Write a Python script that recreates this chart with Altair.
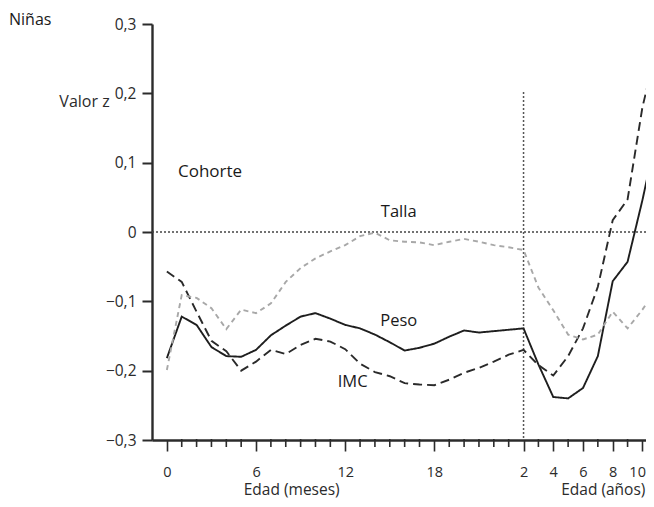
import altair as alt
import pandas as pd

# x position unit: months 0..24, then one unit per year after 2 years (24 = 2 y, 26 = 4 y, ... 32 = 10 y)
x_units = list(range(0, 34))
peso = [-0.182, -0.122, -0.134, -0.166, -0.179, -0.180, -0.170, -0.149, -0.135, -0.122,
        -0.117, -0.125, -0.134, -0.139, -0.148, -0.159, -0.171, -0.167, -0.161, -0.151,
        -0.142, -0.145, -0.143, -0.141, -0.139, -0.191, -0.238, -0.240, -0.225, -0.179,
        -0.071, -0.043, 0.046, 0.145]
imc = [-0.057, -0.072, -0.115, -0.157, -0.172, -0.200, -0.187, -0.170, -0.176, -0.163,
       -0.154, -0.158, -0.169, -0.190, -0.202, -0.208, -0.218, -0.220, -0.221, -0.213,
       -0.203, -0.196, -0.187, -0.177, -0.170, -0.192, -0.207, -0.179, -0.139, -0.079,
       0.017, 0.047, 0.180, 0.270]
talla = [-0.199, -0.091, -0.095, -0.110, -0.140, -0.112, -0.117, -0.103, -0.072, -0.052,
         -0.038, -0.028, -0.019, -0.006, -0.001, -0.012, -0.014, -0.015, -0.019, -0.014,
         -0.010, -0.014, -0.019, -0.022, -0.026, -0.080, -0.113, -0.148, -0.155, -0.148,
         -0.115, -0.139, -0.112, -0.080]
series_names = ["Peso", "IMC", "Talla"]
major_ticks = [0, 6, 12, 18, 24, 26, 28, 30, 32]
major_labels = ["0", "6", "12", "18", "2", "4", "6", "8", "10"]
minor_ticks = [v for v in range(0, 33) if v not in major_ticks]
y_tick_values = [-0.3, -0.2, -0.1, 0.0, 0.1, 0.2, 0.3]

ann_text = ["Cohorte", "Talla", "Peso", "IMC"]
ann_x = [0.75, 15.6, 15.6, 12.5]
ann_y = [0.087, 0.029, -0.128, -0.217]
ann_align = ["left", "center", "center", "center"]

FONT = "Open Sans"
DARK = "#2b2b2b"
PLOT_H = 416

rows = []
for name, vals in zip(series_names, [peso, imc, talla]):
    for u, v in zip(x_units, vals):
        rows.append({"u": u, "v": v, "serie": name})
df = pd.DataFrame(rows)

XMIN, XMAX = -1, 32.24
xscale = alt.Scale(domain=[XMIN, XMAX], nice=False, zero=False)
yscale = alt.Scale(domain=[-0.3, 0.3], nice=False, zero=False)

label_map = "{" + ", ".join(f"'{v}': '{t}'" for v, t in zip(major_ticks, major_labels)) + "}"
x_label_expr = f"{label_map}[datum.value + '']"
y_label_expr = "datum.value == 0 ? '0' : replace(format(datum.value, '.1f'), '.', ',')"

XAXIS = alt.Axis(values=major_ticks, labelExpr=x_label_expr, title=None,
                 grid=False, labelFlush=False, labelOverlap=False, labelBound=False,
                 tickSize=11, tickWidth=1.6, tickColor=DARK, domainColor=DARK, domainWidth=2.4,
                 labelAlign={"condition": {"test": "datum.value == 32", "value": "right"}, "value": "center"},
                 labelOffset={"condition": {"test": "datum.value == 32", "value": 3}, "value": 0},
                 labelFont=FONT, labelFontSize=14.5, labelColor=DARK, labelPadding=14)
YAXIS = alt.Axis(values=y_tick_values, labelExpr=y_label_expr, grid=False,
                 labelOverlap=False,
                 title="Valor z", titleAngle=0, titleX=-68, titleY=77,
                 titleAlign="center", titleBaseline="middle",
                 titleFont=FONT, titleFontSize=16, titleFontWeight="normal", titleColor=DARK,
                 tickSize=10, tickWidth=2, tickColor=DARK, domainColor=DARK, domainWidth=2.4,
                 labelFont=FONT, labelFontSize=15.5, labelColor=DARK, labelPadding=6)


def X(field):
    return alt.X(field, scale=xscale, axis=XAXIS)


def Y(field):
    return alt.Y(field, scale=yscale, axis=YAXIS)


lines = alt.Chart(df).mark_line(strokeWidth=1.9).encode(
    x=X("u:Q"),
    y=Y("v:Q"),
    color=alt.Color("serie:N", scale=alt.Scale(domain=series_names, range=["#1e1e1e", "#2a2a2a", "#a8a8a8"]), legend=None),
    strokeDash=alt.StrokeDash("serie:N", scale=alt.Scale(domain=series_names, range=[[1, 0], [9, 5], [5, 4]]), legend=None),
)

hrule = alt.Chart(pd.DataFrame({"y": [0.0]})).mark_rule(color="#444", strokeDash=[2, 2], strokeWidth=1.5).encode(
    y=Y("y:Q")
)
vrule = alt.Chart(pd.DataFrame({"x": [24], "y": [0.202], "y2": [-0.3]})).mark_rule(
    color="#555", strokeDash=[2, 2], strokeWidth=1.5).encode(
    x=X("x:Q"), y=Y("y:Q"), y2="y2:Q"
)

# minor axis ticks (one per month / year), hanging below the x axis line
minor = alt.Chart(pd.DataFrame({"u": minor_ticks})).mark_tick(
    color=DARK, thickness=1.6, size=8, orient="vertical", opacity=1).encode(
    x=X("u:Q"), y=alt.value(PLOT_H + 3)
)

ann_df = pd.DataFrame({"t": ann_text, "x": ann_x, "y": ann_y, "a": ann_align})
ann_left = alt.Chart(ann_df[ann_df.a == "left"]).mark_text(
    align="left", baseline="middle", font=FONT, fontSize=17, color="#1a1a1a").encode(
    x=X("x:Q"), y=Y("y:Q"), text="t:N")
ann_center = alt.Chart(ann_df[ann_df.a == "center"]).mark_text(
    align="center", baseline="middle", font=FONT, fontSize=16.5, color="#1a1a1a").encode(
    x=X("x:Q"), y=Y("y:Q"), text="t:N")

xt1 = alt.Chart(pd.DataFrame({"t": ["Edad (meses)"], "x": [8.4]})).mark_text(
    align="center", baseline="alphabetic", font=FONT, fontSize=15.5, color=DARK).encode(
    x=X("x:Q"), y=alt.value(471), text="t:N")
xt2 = alt.Chart(pd.DataFrame({"t": ["Edad (años)"], "x": [32.2]})).mark_text(
    align="right", baseline="alphabetic", font=FONT, fontSize=15.5, color=DARK).encode(
    x=X("x:Q"), y=alt.value(471), text="t:N")

ninas = alt.Chart(pd.DataFrame({"t": ["Niñas"]})).mark_text(
    align="left", baseline="middle", font=FONT, fontSize=16, color="#1a1a1a").encode(
    x=alt.value(-143), y=alt.value(-4), text="t:N")

chart = alt.layer(hrule, vrule, lines, minor, ann_left, ann_center, xt1, xt2, ninas).properties(
    width=494, height=PLOT_H,
    autosize=alt.AutoSizeParams(type="none"),
    padding={"left": 144, "top": 16, "right": 0, "bottom": 59},
).configure_view(stroke=None).configure_axis(labelOverlap=False)

chart.save("out.html", embed_options={"renderer": "svg", "actions": False})
